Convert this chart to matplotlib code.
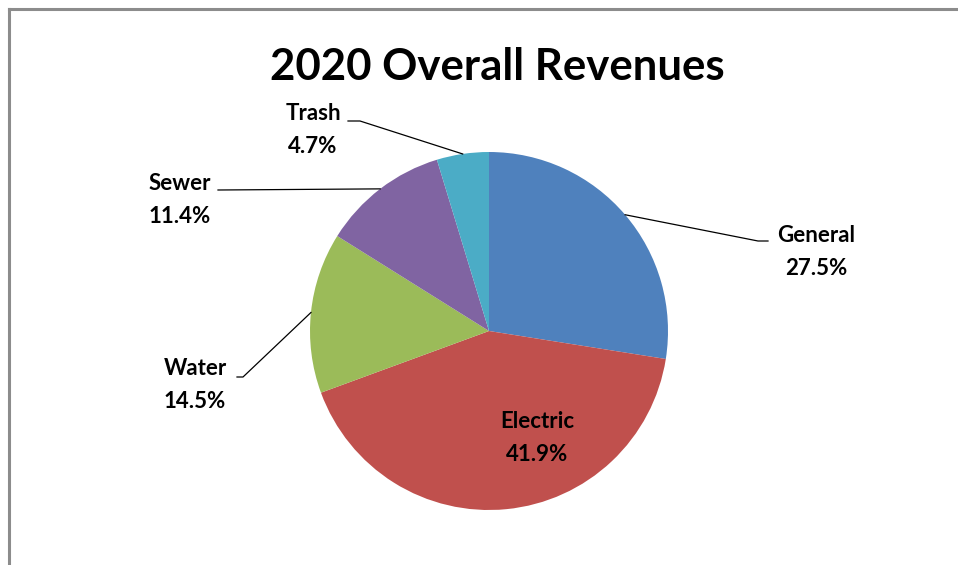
import numpy as np
import matplotlib
matplotlib.use("Agg")
import matplotlib.pyplot as plt
from matplotlib.lines import Line2D

plt.rcParams['font.family'] = ['Lato', 'DejaVu Sans']

categories = ["General", "Electric", "Water", "Sewer", "Trash"]
shares = [27.5, 41.9, 14.5, 11.4, 4.7]
colors = ["#4F81BD", "#C0504D", "#9BBB59", "#8064A2", "#4BACC6"]

W, H = 958, 565


def px(x, y):
    # pixel position (from top-left) to figure fraction
    return x / W, 1 - y / H


fig = plt.figure(figsize=(W / 100, H / 100), dpi=100)

# outer chart frame (left and top edges visible)
fig.add_artist(Line2D([9 / W, 9 / W], [0, 1 - 9 / H], color="#8c8c8c", lw=2.2,
                      transform=fig.transFigure))
fig.add_artist(Line2D([9 / W, 1], [1 - 9 / H, 1 - 9 / H], color="#8c8c8c", lw=2.2,
                      transform=fig.transFigure))

fig.text(*px(497, 67), "2020 Overall Revenues", ha="center", va="center",
         fontsize=31.5, fontweight="bold")

cx, cy, r = 489, 331, 179
ax = fig.add_axes([(cx - r) / W, (H - cy - r) / H, 2 * r / W, 2 * r / H])
wedges, _ = ax.pie(shares, colors=colors, startangle=90, counterclock=False,
                   radius=1.0, wedgeprops=dict(linewidth=0))
ax.set_xlim(-1, 1)
ax.set_ylim(-1, 1)
ax.set_aspect("equal")
ax.axis("off")

# label centre positions and the elbow/end of each leader line (pixels)
label_pos = {
    "General": (816, 252),
    "Electric": (537, 438),
    "Water": (195, 385),
    "Sewer": (180, 200),
    "Trash": (313, 130),
}
leader_pts = {
    "General": [(758, 241), (768, 241)],
    "Water": [(243, 377), (237, 377)],
    "Sewer": [(218, 190)],
    "Trash": [(360, 121), (348, 121)],
}

for w, name, val in zip(wedges, categories, shares):
    lx, ly = label_pos[name]
    fig.text(*px(lx, ly), f"{name}\n{val:.1f}%", ha="center", va="center",
             fontsize=16, fontweight="bold", linespacing=1.7)
    if name in leader_pts:
        mid = np.deg2rad((w.theta1 + w.theta2) / 2)
        ex, ey = cx + r * np.cos(mid), cy - r * np.sin(mid)
        pts = [(ex, ey)] + leader_pts[name]
        xs = [p[0] / W for p in pts]
        ys = [1 - p[1] / H for p in pts]
        fig.add_artist(Line2D(xs, ys, color="black", lw=0.9,
                              transform=fig.transFigure))

fig.savefig("out.png", dpi=100)
